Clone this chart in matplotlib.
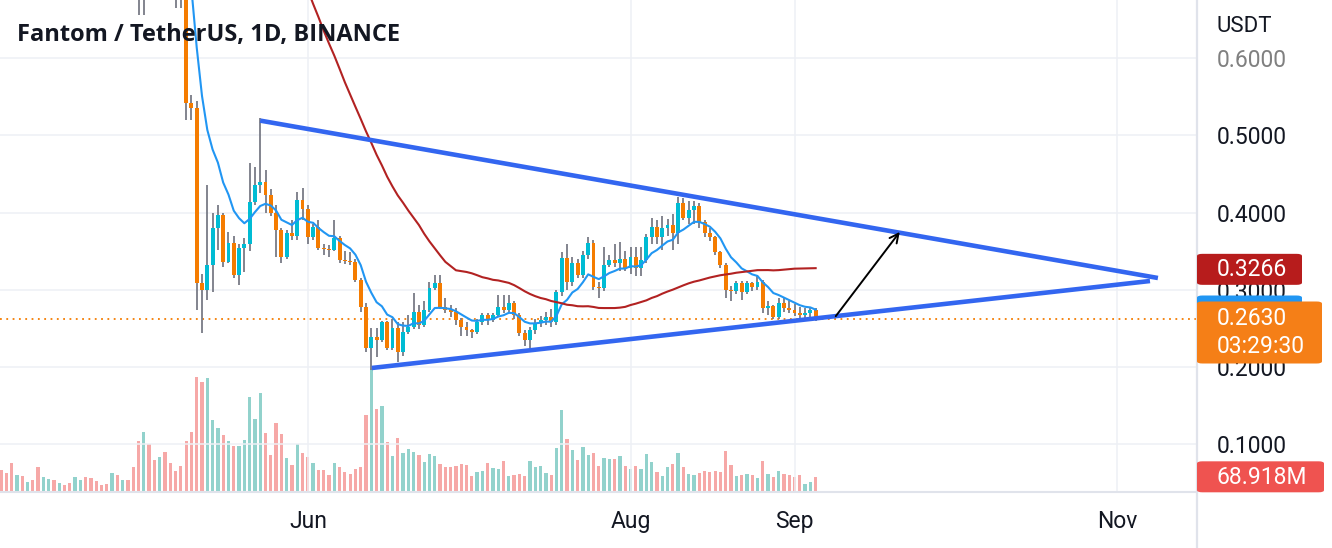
import matplotlib
matplotlib.use("Agg")
import matplotlib.pyplot as plt
import numpy as np
import pandas as pd
from matplotlib.patches import FancyBboxPatch
from matplotlib.lines import Line2D

# ---------------- data ----------------
start_date = "2022-04-04"
first_open = 1.55

close = [1.50, 1.45, 1.38, 1.42, 1.33, 1.37, 1.30, 1.18, 1.22, 1.28,
         1.20, 1.24, 1.18, 1.15, 1.19, 1.21, 1.14, 1.10, 1.06, 1.03,
         0.98, 1.01, 0.94, 0.96, 0.88, 0.80, 0.72, 0.76, 0.74, 0.72,
         0.84, 0.80, 0.76, 0.72, 0.70, 0.542, 0.535, 0.309, 0.300, 0.332,
         0.380, 0.397, 0.336, 0.361, 0.319, 0.354, 0.360, 0.414, 0.436, 0.440,
         0.423, 0.400, 0.377, 0.343, 0.374, 0.370, 0.416, 0.405, 0.368, 0.381,
         0.354, 0.353, 0.351, 0.367, 0.339, 0.337, 0.336, 0.313, 0.278, 0.225,
         0.239, 0.235, 0.258, 0.225, 0.251, 0.220, 0.246, 0.252, 0.271, 0.255,
         0.274, 0.302, 0.309, 0.278, 0.274, 0.271, 0.261, 0.252, 0.248, 0.245,
         0.258, 0.267, 0.261, 0.267, 0.278, 0.274, 0.283, 0.268, 0.244, 0.235,
         0.248, 0.257, 0.261, 0.265, 0.258, 0.297, 0.341, 0.310, 0.335, 0.319,
         0.345, 0.361, 0.304, 0.302, 0.332, 0.339, 0.335, 0.340, 0.328, 0.343,
         0.328, 0.339, 0.368, 0.381, 0.368, 0.380, 0.384, 0.374, 0.412, 0.393,
         0.403, 0.408, 0.388, 0.374, 0.368, 0.349, 0.332, 0.300, 0.298, 0.309,
         0.297, 0.309, 0.304, 0.310, 0.277, 0.279, 0.265, 0.283, 0.277, 0.274,
         0.270, 0.267, 0.270, 0.274, 0.263]

high = [1.58, 1.53, 1.47, 1.45, 1.43, 1.40, 1.38, 1.31, 1.25, 1.31,
        1.29, 1.27, 1.25, 1.20, 1.21, 1.25, 1.22, 1.15, 1.12, 1.08,
        1.04, 1.03, 1.02, 0.98, 0.97, 0.89, 0.81, 0.79, 0.78, 0.76,
        0.86, 0.86, 0.81, 0.77, 0.73, 0.720, 0.552, 0.545, 0.320, 0.436,
        0.400, 0.410, 0.400, 0.375, 0.370, 0.360, 0.367, 0.464, 0.459, 0.522,
        0.455, 0.430, 0.410, 0.380, 0.378, 0.390, 0.427, 0.432, 0.410, 0.385,
        0.390, 0.360, 0.358, 0.390, 0.370, 0.350, 0.349, 0.340, 0.315, 0.283,
        0.251, 0.251, 0.260, 0.260, 0.262, 0.258, 0.258, 0.268, 0.296, 0.280,
        0.285, 0.310, 0.319, 0.319, 0.290, 0.280, 0.276, 0.264, 0.258, 0.250,
        0.262, 0.270, 0.270, 0.270, 0.293, 0.293, 0.293, 0.285, 0.270, 0.248,
        0.252, 0.262, 0.266, 0.272, 0.275, 0.300, 0.349, 0.360, 0.342, 0.340,
        0.350, 0.368, 0.365, 0.310, 0.356, 0.345, 0.360, 0.362, 0.350, 0.355,
        0.355, 0.355, 0.372, 0.393, 0.390, 0.395, 0.392, 0.398, 0.420, 0.419,
        0.415, 0.415, 0.412, 0.390, 0.380, 0.370, 0.350, 0.335, 0.305, 0.312,
        0.312, 0.312, 0.310, 0.318, 0.313, 0.285, 0.280, 0.290, 0.290, 0.285,
        0.282, 0.278, 0.276, 0.278, 0.276]

low = [1.45, 1.40, 1.33, 1.35, 1.30, 1.30, 1.27, 1.15, 1.16, 1.21,
       1.17, 1.18, 1.15, 1.11, 1.13, 1.16, 1.11, 1.06, 1.02, 0.99,
       0.95, 0.96, 0.92, 0.92, 0.86, 0.77, 0.656, 0.656, 0.71, 0.69,
       0.71, 0.78, 0.73, 0.665, 0.665, 0.520, 0.520, 0.274, 0.244, 0.287,
       0.297, 0.352, 0.330, 0.335, 0.315, 0.306, 0.323, 0.350, 0.410, 0.425,
       0.400, 0.395, 0.343, 0.335, 0.340, 0.365, 0.365, 0.390, 0.360, 0.365,
       0.352, 0.345, 0.343, 0.350, 0.335, 0.333, 0.332, 0.310, 0.272, 0.220,
       0.196, 0.213, 0.232, 0.222, 0.222, 0.207, 0.215, 0.243, 0.250, 0.250,
       0.252, 0.272, 0.300, 0.275, 0.270, 0.265, 0.255, 0.240, 0.240, 0.238,
       0.243, 0.255, 0.255, 0.258, 0.265, 0.270, 0.270, 0.262, 0.240, 0.228,
       0.225, 0.243, 0.252, 0.255, 0.252, 0.255, 0.292, 0.300, 0.305, 0.315,
       0.315, 0.340, 0.300, 0.290, 0.298, 0.330, 0.330, 0.325, 0.325, 0.320,
       0.318, 0.318, 0.335, 0.360, 0.360, 0.352, 0.370, 0.352, 0.360, 0.390,
       0.385, 0.385, 0.380, 0.368, 0.363, 0.345, 0.328, 0.290, 0.285, 0.295,
       0.287, 0.295, 0.298, 0.300, 0.270, 0.268, 0.262, 0.262, 0.272, 0.270,
       0.266, 0.264, 0.262, 0.265, 0.260]

volume_m = [102, 88, 135, 81, 74, 45, 55, 116, 72, 60,
            55, 41, 31, 41, 72, 55, 69, 64, 50, 31,
            36, 88, 78, 55, 55, 116, 238, 280, 224, 149,
            163, 186, 135, 97, 121, 238, 280, 539, 515, 534,
            337, 299, 266, 238, 215, 215, 243, 445, 341, 464,
            276, 172, 323, 271, 158, 125, 224, 182, 163, 135,
            102, 102, 78, 135, 116, 92, 83, 107, 116, 360,
            590, 388, 403, 233, 168, 252, 182,
            200, 186, 172, 139, 177, 168, 130, 116, 116, 121,
            130, 125, 74, 92, 97, 135, 111, 107, 144, 74,
            78, 83, 74, 144, 116, 121, 88, 78, 205, 384,
            247, 196, 149, 210, 172, 182, 121, 158, 153, 153,
            168, 121, 107, 121, 107, 177, 139, 92, 74, 116,
            130, 182, 116, 83, 78, 88, 97, 92, 97, 92,
            191, 125, 74, 78, 83, 78, 64, 144, 83, 69,
            97, 83, 78, 69, 78, 36, 45, 69]

month_ticks = ["2022-06-01", "2022-08-01", "2022-09-01", "2022-11-01"]
month_labels = ["Jun", "Aug", "Sep", "Nov"]
price_ticks = [0.1, 0.2, 0.3, 0.4, 0.5, 0.6]

# trend lines (day offset, price)
upper_line_x = [49.0, 218.7]
upper_line_y = [0.519, 0.3154]
lower_line_x = [70.1, 217.2]
lower_line_y = [0.199, 0.3115]
arrow_from = (157.8, 0.266)
arrow_to = (169.9, 0.375)

last_price_text = "0.2630"
countdown_text = "03:29:30"
sma_label_value = 0.3266
volume_label_text = "68.918M"

# ---------------- figure ----------------
W, H = 1332, 548
fig = plt.figure(figsize=(W / 100, H / 100), dpi=100)
fig.patch.set_facecolor("white")

plot_right = 1197
plot_bottom = 492
ax = fig.add_axes([0, 1 - plot_bottom / H, plot_right / W, plot_bottom / H])
axv = ax.twinx()
ax.set_zorder(axv.get_zorder() + 1)
ax.patch.set_visible(False)
axv.patch.set_facecolor("white")

c = np.array(close)
o = np.concatenate([[first_open], c[:-1]])
h = np.array(high)
l = np.array(low)
v = np.array(volume_m)
n = len(c)
x = np.arange(n)
up = c >= o

ORANGE = "#f57c00"
TEAL = "#00bcd4"
WICK = "#787b86"

# volume
vcol = np.where(up, "#26a69a", "#ef5350")
axv.bar(x, v, width=0.62, color=vcol, alpha=0.5, linewidth=0)
axv.set_ylim(0, plot_bottom * 4.699)
axv.axis("off")

# candles
ax.vlines(x, l, h, color=WICK, linewidth=1.3, zorder=3)
body_lo = np.minimum(o, c)
body_h = np.maximum(np.abs(c - o), 0.0018)
ax.bar(x, body_h, bottom=body_lo, width=0.74, color=np.where(up, TEAL, ORANGE),
       linewidth=0, zorder=4)

# moving averages
cs = pd.Series(c)
ema = cs.ewm(span=9, adjust=False).mean()
sma = cs.rolling(50).mean()
ax.plot(x, ema, color="#2196f3", linewidth=1.5, zorder=5)
ax.plot(x, sma, color="#b22222", linewidth=1.5, zorder=5)

# trend lines and arrow
ax.plot(upper_line_x, upper_line_y, color="#3366f0", linewidth=3.3,
        solid_capstyle="butt", zorder=6)
ax.plot(lower_line_x, lower_line_y, color="#3366f0", linewidth=3.3,
        solid_capstyle="butt", zorder=6)
ax.annotate("", xy=arrow_to, xytext=arrow_from,
            arrowprops=dict(arrowstyle="->", color="black", lw=1.4,
                            mutation_scale=16, shrinkA=0, shrinkB=0), zorder=7)

# last price line
ax.axhline(c[-1], color=ORANGE, linestyle=(0, (1, 2.5)), linewidth=1.3, zorder=2)

# axes limits
ax.set_xlim(-1 / 5.29, (plot_right - 1) / 5.29)
ax.set_ylim(0.6 - (plot_bottom - 58) / 773, 0.6 + 58 / 773)

start = pd.Timestamp(start_date)
tick_pos = [(pd.Timestamp(t) - start).days for t in month_ticks]
ax.set_xticks(tick_pos)
ax.set_xticklabels(month_labels)
ax.set_yticks(price_ticks)
ax.set_yticklabels([f"{p:.4f}" for p in price_ticks])
ax.yaxis.tick_right()
ax.tick_params(axis="y", length=0, pad=14.5, labelsize=16.5, labelcolor="#131722")
ax.tick_params(axis="x", length=0, pad=13, labelsize=16.5, labelcolor="#131722")
for lab in ax.get_xticklabels() + ax.get_yticklabels():
    lab.set_fontfamily("Roboto")
ax.get_yticklabels()[-1].set_color("#808080")
ax.grid(True, color="#eef0f5", linewidth=1.1, zorder=0)
for s in ["top", "right", "left"]:
    ax.spines[s].set_visible(False)
ax.spines["bottom"].set_color("#e0e3eb")
ax.spines["bottom"].set_linewidth(1.5)

# separator between plot and price scale
fig.add_artist(Line2D([plot_right / W] * 2, [0, 1], transform=fig.transFigure,
                      color="#e0e3eb", linewidth=1.6))

# title and currency
fig.text(17 / W, 1 - 41 / H, "Fantom / TetherUS, 1D, BINANCE", fontsize=17,
         fontweight="bold", family="Open Sans", color="#131722", va="baseline", ha="left")
fig.text(1217 / W, 1 - 27 / H, "USDT", fontsize=16, family="Roboto",
         color="#131722", va="center", ha="left")


# ---------- price-scale labels ----------
def ypix(val, axis=ax):
    return H - axis.transData.transform((0, val))[1]


def box(y_top, y_bot, x_right, color, z):
    p = FancyBboxPatch((plot_right / W, 1 - y_bot / H),
                       (x_right - plot_right) / W, (y_bot - y_top) / H,
                       boxstyle="round,pad=0,rounding_size=0.004",
                       transform=fig.transFigure, facecolor=color,
                       edgecolor="none", zorder=z)
    fig.add_artist(p)


def label(yc, s, z):
    t = fig.text(1217 / W, 1 - yc / H, s, fontsize=16.5, family="Roboto",
                 color="white", va="center", ha="left", zorder=z)
    return t


ys = ypix(sma_label_value)
box(ys - 15.5, ys + 15.5, 1302, "#b71c1c", 10)
label(ys, f"{sma_label_value:.4f}", 11)

yp = ypix(c[-1])
box(yp - 23, yp + 8, 1302, "#2196f3", 12)
box(yp - 17, yp + 45, 1322, "#f57f17", 13)
label(yp, last_price_text, 14)
label(yp + 28, countdown_text, 14)

yv = ypix(v[-1], axv)
box(yv - 16, yv + 15, 1324, "#ef5350", 10)
label(yv, volume_label_text, 11)

fig.savefig("out.png", dpi=100, facecolor="white")
